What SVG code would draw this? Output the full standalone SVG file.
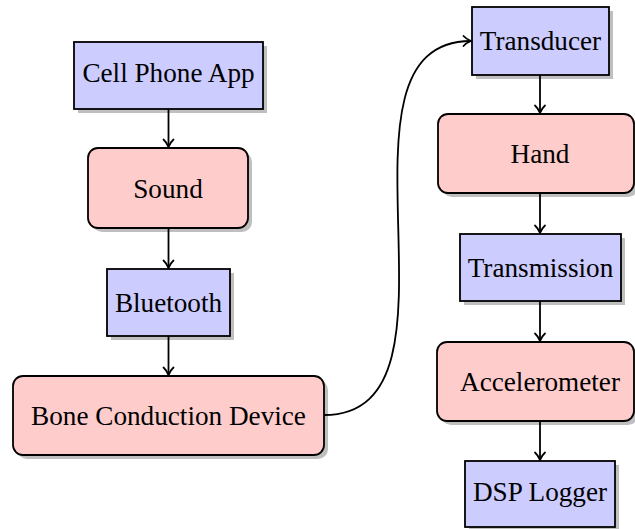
<svg xmlns="http://www.w3.org/2000/svg" width="635" height="529" viewBox="0 0 635 529">
<defs>
<style>
.shadow{fill:#bfbfbf;stroke:none}
.blue{fill:#ccccff;stroke:#000;stroke-width:1.8}
.red{fill:#ffcccc;stroke:#000;stroke-width:1.8}
.lbl{font-family:"Liberation Serif","Times New Roman","DejaVu Serif",serif;font-size:27.2px;fill:#000;text-anchor:middle}
.edge{fill:none;stroke:#000;stroke-width:1.8}
</style>
<marker id="arr" markerUnits="userSpaceOnUse" markerWidth="14" markerHeight="14" viewBox="-9 -7 11 14" refX="0" refY="0" orient="auto">
<path d="M-7.5,-5 C-5,-2.2 -1.8,-0.7 0,0 C-1.8,0.7 -5,2.2 -7.5,5" fill="none" stroke="#000" stroke-width="1.8" stroke-linecap="round" stroke-linejoin="round"/>
</marker>
</defs>
<rect width="635" height="529" fill="#fff"/>

<g id="cellphone">
<rect class="shadow" x="78" y="46" width="189" height="67"/>
<rect class="blue" x="74" y="42" width="189" height="67"/>
<text class="lbl" x="168.5" y="82">Cell Phone App</text>
</g>
<g id="sound">
<rect class="shadow" x="92" y="152" width="160" height="80" rx="10"/>
<rect class="red" x="88" y="148" width="160" height="80" rx="10"/>
<text class="lbl" x="168" y="197.5">Sound</text>
</g>
<g id="bluetooth">
<rect class="shadow" x="111" y="273" width="123" height="67"/>
<rect class="blue" x="107" y="269" width="123" height="67"/>
<text class="lbl" x="168.5" y="311.8">Bluetooth</text>
</g>
<g id="bone">
<rect class="shadow" x="17" y="380" width="311" height="79" rx="10"/>
<rect class="red" x="13" y="376" width="311" height="79" rx="10"/>
<text class="lbl" x="168.5" y="424.8">Bone Conduction Device</text>
</g>
<g id="transducer">
<rect class="shadow" x="476" y="11" width="137" height="68"/>
<rect class="blue" x="472" y="7" width="137" height="68"/>
<text class="lbl" x="540.5" y="50.3">Transducer</text>
</g>
<g id="hand">
<rect class="shadow" x="442" y="118" width="196" height="79" rx="10"/>
<rect class="red" x="438" y="114" width="196" height="79" rx="10"/>
<text class="lbl" x="540" y="162.8">Hand</text>
</g>
<g id="transmission">
<rect class="shadow" x="464" y="238" width="161" height="67"/>
<rect class="blue" x="460" y="234" width="161" height="67"/>
<text class="lbl" x="540.5" y="276.8">Transmission</text>
</g>
<g id="accelerometer">
<rect class="shadow" x="441" y="346" width="197" height="79" rx="10"/>
<rect class="red" x="437" y="342" width="197" height="79" rx="10"/>
<text class="lbl" x="540" y="390.8">Accelerometer</text>
</g>
<g id="dsp">
<rect class="shadow" x="469" y="465" width="150" height="66"/>
<rect class="blue" x="465" y="461" width="150" height="66"/>
<text class="lbl" x="540" y="500.5">DSP Logger</text>
</g>

<g id="connectors">
<path class="edge" marker-end="url(#arr)" d="M168.5,109 L168.5,147"/>
<path class="edge" marker-end="url(#arr)" d="M168.5,228 L168.5,268"/>
<path class="edge" marker-end="url(#arr)" d="M168.5,336 L168.5,375"/>
<path class="edge" marker-end="url(#arr)" d="M540,75 L540,113"/>
<path class="edge" marker-end="url(#arr)" d="M540,193 L540,233"/>
<path class="edge" marker-end="url(#arr)" d="M540,301 L540,341"/>
<path class="edge" marker-end="url(#arr)" d="M540,421 L540,460"/>
<path class="edge" marker-end="url(#arr)" d="M324,415 C482,415 315,41 471,41"/>
</g>
</svg>
